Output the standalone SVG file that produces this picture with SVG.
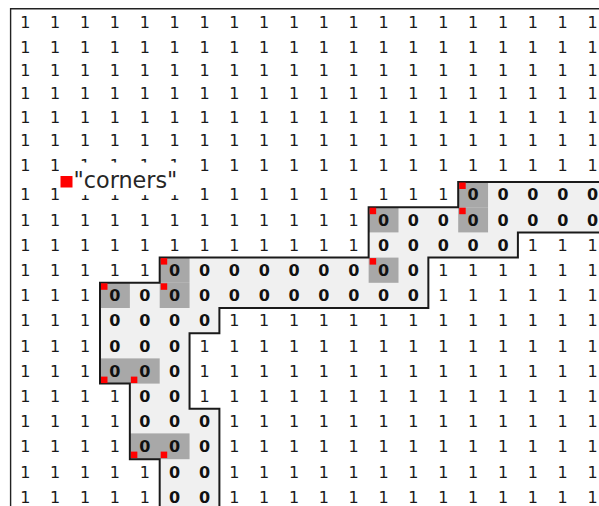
<svg xmlns="http://www.w3.org/2000/svg" width="599" height="506" viewBox="0 0 599 506">
<style>
text{font-family:"DejaVu Sans","Liberation Sans",sans-serif;font-size:16px;text-anchor:middle;fill:#1a1a1a}
text.z{font-weight:bold;fill:#111}
.cg{fill:#a8a8a8}
.rd{fill:#ff0000}
.leg{font-size:22.3px;text-anchor:start;fill:#262626;font-weight:normal}
</style>
<rect width="599" height="506" fill="#ffffff"/>
<g id="frame"><path d="M10.6,506 V8.7 H599" fill="none" stroke="#222" stroke-width="1.4"/></g>
<g id="region-fill">
<path d="M607,182 H458.2 V207.2 H368.65 V257.6 H159.7 V282.8 H100 V383.6 H129.85 V459.2 H159.7 V510 H219.4 V408.8 H189.55 V333.2 H219.4 V308 H428.35 V257.6 H517.9 V232.4 H607 Z" fill="#f0f0f0"/>
</g>
<g id="corner-cells">
<rect class="cg" x="458.2" y="182" width="29.85" height="25.2"/>
<rect class="cg" x="368.65" y="207.2" width="29.85" height="25.2"/>
<rect class="cg" x="458.2" y="207.2" width="29.85" height="25.2"/>
<rect class="cg" x="159.7" y="257.6" width="29.85" height="25.2"/>
<rect class="cg" x="368.65" y="257.6" width="29.85" height="25.2"/>
<rect class="cg" x="100" y="282.8" width="29.85" height="25.2"/>
<rect class="cg" x="159.7" y="282.8" width="29.85" height="25.2"/>
<rect class="cg" x="100" y="358.4" width="59.7" height="25.2"/>
<rect class="cg" x="129.85" y="433.4" width="59.7" height="25.8"/>
</g>
<g id="row0" transform="translate(0,27.5)"><text x="25.4">1</text><text x="55.2">1</text><text x="85.1">1</text><text x="114.9">1</text><text x="144.8">1</text><text x="174.6">1</text><text x="204.5">1</text><text x="234.3">1</text><text x="264.2">1</text><text x="294">1</text><text x="323.9">1</text><text x="353.7">1</text><text x="383.6">1</text><text x="413.4">1</text><text x="443.3">1</text><text x="473.1">1</text><text x="503">1</text><text x="532.8">1</text><text x="562.7">1</text><text x="592.5">1</text></g>
<g id="row1" transform="translate(0,52.5)"><text x="25.4">1</text><text x="55.2">1</text><text x="85.1">1</text><text x="114.9">1</text><text x="144.8">1</text><text x="174.6">1</text><text x="204.5">1</text><text x="234.3">1</text><text x="264.2">1</text><text x="294">1</text><text x="323.9">1</text><text x="353.7">1</text><text x="383.6">1</text><text x="413.4">1</text><text x="443.3">1</text><text x="473.1">1</text><text x="503">1</text><text x="532.8">1</text><text x="562.7">1</text><text x="592.5">1</text></g>
<g id="row2" transform="translate(0,75.8)"><text x="25.4">1</text><text x="55.2">1</text><text x="85.1">1</text><text x="114.9">1</text><text x="144.8">1</text><text x="174.6">1</text><text x="204.5">1</text><text x="234.3">1</text><text x="264.2">1</text><text x="294">1</text><text x="323.9">1</text><text x="353.7">1</text><text x="383.6">1</text><text x="413.4">1</text><text x="443.3">1</text><text x="473.1">1</text><text x="503">1</text><text x="532.8">1</text><text x="562.7">1</text><text x="592.5">1</text></g>
<g id="row3" transform="translate(0,99.1)"><text x="25.4">1</text><text x="55.2">1</text><text x="85.1">1</text><text x="114.9">1</text><text x="144.8">1</text><text x="174.6">1</text><text x="204.5">1</text><text x="234.3">1</text><text x="264.2">1</text><text x="294">1</text><text x="323.9">1</text><text x="353.7">1</text><text x="383.6">1</text><text x="413.4">1</text><text x="443.3">1</text><text x="473.1">1</text><text x="503">1</text><text x="532.8">1</text><text x="562.7">1</text><text x="592.5">1</text></g>
<g id="row4" transform="translate(0,122.5)"><text x="25.4">1</text><text x="55.2">1</text><text x="85.1">1</text><text x="114.9">1</text><text x="144.8">1</text><text x="174.6">1</text><text x="204.5">1</text><text x="234.3">1</text><text x="264.2">1</text><text x="294">1</text><text x="323.9">1</text><text x="353.7">1</text><text x="383.6">1</text><text x="413.4">1</text><text x="443.3">1</text><text x="473.1">1</text><text x="503">1</text><text x="532.8">1</text><text x="562.7">1</text><text x="592.5">1</text></g>
<g id="row5" transform="translate(0,145.8)"><text x="25.4">1</text><text x="55.2">1</text><text x="85.1">1</text><text x="114.9">1</text><text x="144.8">1</text><text x="174.6">1</text><text x="204.5">1</text><text x="234.3">1</text><text x="264.2">1</text><text x="294">1</text><text x="323.9">1</text><text x="353.7">1</text><text x="383.6">1</text><text x="413.4">1</text><text x="443.3">1</text><text x="473.1">1</text><text x="503">1</text><text x="532.8">1</text><text x="562.7">1</text><text x="592.5">1</text></g>
<g id="row6" transform="translate(0,171)"><text x="25.4">1</text><text x="55.2">1</text><text x="85.1">1</text><text x="114.9">1</text><text x="144.8">1</text><text x="174.6">1</text><text x="204.5">1</text><text x="234.3">1</text><text x="264.2">1</text><text x="294">1</text><text x="323.9">1</text><text x="353.7">1</text><text x="383.6">1</text><text x="413.4">1</text><text x="443.3">1</text><text x="473.1">1</text><text x="503">1</text><text x="532.8">1</text><text x="562.7">1</text><text x="592.5">1</text></g>
<g id="row7" transform="translate(0,200.4)"><text x="25.4">1</text><text x="55.2">1</text><text x="85.1">1</text><text x="114.9">1</text><text x="144.8">1</text><text x="174.6">1</text><text x="204.5">1</text><text x="234.3">1</text><text x="264.2">1</text><text x="294">1</text><text x="323.9">1</text><text x="353.7">1</text><text x="383.6">1</text><text x="413.4">1</text><text x="443.3">1</text><text class="z" x="473.1">0</text><text class="z" x="503">0</text><text class="z" x="532.8">0</text><text class="z" x="562.7">0</text><text class="z" x="592.5">0</text></g>
<g id="row8" transform="translate(0,225.6)"><text x="25.4">1</text><text x="55.2">1</text><text x="85.1">1</text><text x="114.9">1</text><text x="144.8">1</text><text x="174.6">1</text><text x="204.5">1</text><text x="234.3">1</text><text x="264.2">1</text><text x="294">1</text><text x="323.9">1</text><text x="353.7">1</text><text class="z" x="383.6">0</text><text class="z" x="413.4">0</text><text class="z" x="443.3">0</text><text class="z" x="473.1">0</text><text class="z" x="503">0</text><text class="z" x="532.8">0</text><text class="z" x="562.7">0</text><text class="z" x="592.5">0</text></g>
<g id="row9" transform="translate(0,250.8)"><text x="25.4">1</text><text x="55.2">1</text><text x="85.1">1</text><text x="114.9">1</text><text x="144.8">1</text><text x="174.6">1</text><text x="204.5">1</text><text x="234.3">1</text><text x="264.2">1</text><text x="294">1</text><text x="323.9">1</text><text x="353.7">1</text><text class="z" x="383.6">0</text><text class="z" x="413.4">0</text><text class="z" x="443.3">0</text><text class="z" x="473.1">0</text><text class="z" x="503">0</text><text x="532.8">1</text><text x="562.7">1</text><text x="592.5">1</text></g>
<g id="row10" transform="translate(0,276)"><text x="25.4">1</text><text x="55.2">1</text><text x="85.1">1</text><text x="114.9">1</text><text x="144.8">1</text><text class="z" x="174.6">0</text><text class="z" x="204.5">0</text><text class="z" x="234.3">0</text><text class="z" x="264.2">0</text><text class="z" x="294">0</text><text class="z" x="323.9">0</text><text class="z" x="353.7">0</text><text class="z" x="383.6">0</text><text class="z" x="413.4">0</text><text x="443.3">1</text><text x="473.1">1</text><text x="503">1</text><text x="532.8">1</text><text x="562.7">1</text><text x="592.5">1</text></g>
<g id="row11" transform="translate(0,301.2)"><text x="25.4">1</text><text x="55.2">1</text><text x="85.1">1</text><text class="z" x="114.9">0</text><text class="z" x="144.8">0</text><text class="z" x="174.6">0</text><text class="z" x="204.5">0</text><text class="z" x="234.3">0</text><text class="z" x="264.2">0</text><text class="z" x="294">0</text><text class="z" x="323.9">0</text><text class="z" x="353.7">0</text><text class="z" x="383.6">0</text><text class="z" x="413.4">0</text><text x="443.3">1</text><text x="473.1">1</text><text x="503">1</text><text x="532.8">1</text><text x="562.7">1</text><text x="592.5">1</text></g>
<g id="row12" transform="translate(0,326.4)"><text x="25.4">1</text><text x="55.2">1</text><text x="85.1">1</text><text class="z" x="114.9">0</text><text class="z" x="144.8">0</text><text class="z" x="174.6">0</text><text class="z" x="204.5">0</text><text x="234.3">1</text><text x="264.2">1</text><text x="294">1</text><text x="323.9">1</text><text x="353.7">1</text><text x="383.6">1</text><text x="413.4">1</text><text x="443.3">1</text><text x="473.1">1</text><text x="503">1</text><text x="532.8">1</text><text x="562.7">1</text><text x="592.5">1</text></g>
<g id="row13" transform="translate(0,351.6)"><text x="25.4">1</text><text x="55.2">1</text><text x="85.1">1</text><text class="z" x="114.9">0</text><text class="z" x="144.8">0</text><text class="z" x="174.6">0</text><text x="204.5">1</text><text x="234.3">1</text><text x="264.2">1</text><text x="294">1</text><text x="323.9">1</text><text x="353.7">1</text><text x="383.6">1</text><text x="413.4">1</text><text x="443.3">1</text><text x="473.1">1</text><text x="503">1</text><text x="532.8">1</text><text x="562.7">1</text><text x="592.5">1</text></g>
<g id="row14" transform="translate(0,376.8)"><text x="25.4">1</text><text x="55.2">1</text><text x="85.1">1</text><text class="z" x="114.9">0</text><text class="z" x="144.8">0</text><text class="z" x="174.6">0</text><text x="204.5">1</text><text x="234.3">1</text><text x="264.2">1</text><text x="294">1</text><text x="323.9">1</text><text x="353.7">1</text><text x="383.6">1</text><text x="413.4">1</text><text x="443.3">1</text><text x="473.1">1</text><text x="503">1</text><text x="532.8">1</text><text x="562.7">1</text><text x="592.5">1</text></g>
<g id="row15" transform="translate(0,402)"><text x="25.4">1</text><text x="55.2">1</text><text x="85.1">1</text><text x="114.9">1</text><text class="z" x="144.8">0</text><text class="z" x="174.6">0</text><text x="204.5">1</text><text x="234.3">1</text><text x="264.2">1</text><text x="294">1</text><text x="323.9">1</text><text x="353.7">1</text><text x="383.6">1</text><text x="413.4">1</text><text x="443.3">1</text><text x="473.1">1</text><text x="503">1</text><text x="532.8">1</text><text x="562.7">1</text><text x="592.5">1</text></g>
<g id="row16" transform="translate(0,427.2)"><text x="25.4">1</text><text x="55.2">1</text><text x="85.1">1</text><text x="114.9">1</text><text class="z" x="144.8">0</text><text class="z" x="174.6">0</text><text class="z" x="204.5">0</text><text x="234.3">1</text><text x="264.2">1</text><text x="294">1</text><text x="323.9">1</text><text x="353.7">1</text><text x="383.6">1</text><text x="413.4">1</text><text x="443.3">1</text><text x="473.1">1</text><text x="503">1</text><text x="532.8">1</text><text x="562.7">1</text><text x="592.5">1</text></g>
<g id="row17" transform="translate(0,452.4)"><text x="25.4">1</text><text x="55.2">1</text><text x="85.1">1</text><text x="114.9">1</text><text class="z" x="144.8">0</text><text class="z" x="174.6">0</text><text class="z" x="204.5">0</text><text x="234.3">1</text><text x="264.2">1</text><text x="294">1</text><text x="323.9">1</text><text x="353.7">1</text><text x="383.6">1</text><text x="413.4">1</text><text x="443.3">1</text><text x="473.1">1</text><text x="503">1</text><text x="532.8">1</text><text x="562.7">1</text><text x="592.5">1</text></g>
<g id="row18" transform="translate(0,477.6)"><text x="25.4">1</text><text x="55.2">1</text><text x="85.1">1</text><text x="114.9">1</text><text x="144.8">1</text><text class="z" x="174.6">0</text><text class="z" x="204.5">0</text><text x="234.3">1</text><text x="264.2">1</text><text x="294">1</text><text x="323.9">1</text><text x="353.7">1</text><text x="383.6">1</text><text x="413.4">1</text><text x="443.3">1</text><text x="473.1">1</text><text x="503">1</text><text x="532.8">1</text><text x="562.7">1</text><text x="592.5">1</text></g>
<g id="row19" transform="translate(0,502.8)"><text x="25.4">1</text><text x="55.2">1</text><text x="85.1">1</text><text x="114.9">1</text><text x="144.8">1</text><text class="z" x="174.6">0</text><text class="z" x="204.5">0</text><text x="234.3">1</text><text x="264.2">1</text><text x="294">1</text><text x="323.9">1</text><text x="353.7">1</text><text x="383.6">1</text><text x="413.4">1</text><text x="443.3">1</text><text x="473.1">1</text><text x="503">1</text><text x="532.8">1</text><text x="562.7">1</text><text x="592.5">1</text></g>
<g id="region-outline">
<path d="M607,182 H458.2 V207.2 H368.65 V257.6 H159.7 V282.8 H100 V383.6 H129.85 V459.2 H159.7 V510 M219.4,510 V408.8 H189.55 V333.2 H219.4 V308 H428.35 V257.6 H517.9 V232.4 H607" fill="none" stroke="#1a1a1a" stroke-width="2"/>
</g>
<g id="corner-markers">
<rect class="rd" x="459.2" y="182.5" width="6.5" height="6.5"/>
<rect class="rd" x="369.65" y="207.7" width="6.5" height="6.5"/>
<rect class="rd" x="459.2" y="207.7" width="6.5" height="6.5"/>
<rect class="rd" x="160.7" y="258.1" width="6.5" height="6.5"/>
<rect class="rd" x="369.65" y="258.1" width="6.5" height="6.5"/>
<rect class="rd" x="101" y="283.3" width="6.5" height="6.5"/>
<rect class="rd" x="160.7" y="283.3" width="6.5" height="6.5"/>
<rect class="rd" x="101" y="376.6" width="6.5" height="6.5"/>
<rect class="rd" x="130.85" y="376.6" width="6.5" height="6.5"/>
<rect class="rd" x="130.85" y="451.6" width="6.5" height="6.5"/>
<rect class="rd" x="160.7" y="451.6" width="6.5" height="6.5"/>
</g>
<g id="legend">
<rect x="59" y="162.5" width="125" height="32.5" fill="#ffffff"/>
<rect class="rd" x="60.5" y="176" width="12" height="11.5"/>
<text class="leg" x="73.5" y="187.5">"corners"</text>
</g>
</svg>
